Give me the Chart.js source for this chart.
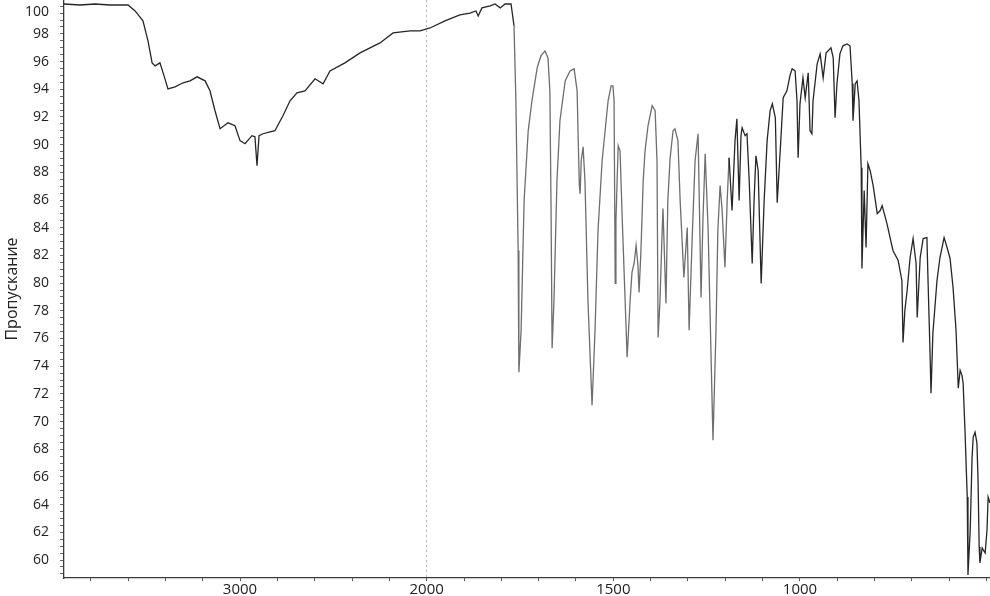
<!DOCTYPE html>
<html>
<head>
<meta charset="utf-8">
<script src="https://cdn.jsdelivr.net/npm/chart.js@4.4.1/dist/chart.umd.min.js"></script>
<style>
  html, body { margin: 0; padding: 0; background: #fff; }
  #chart { display: block; }
</style>
</head>
<body>
<canvas id="chart" width="990" height="596"></canvas>
<script>
// IR spectrum, wavenumber (cm-1) against transmittance (%)
const wavenumbers = [
  3943, 3857, 3777, 3696, 3600, 3562, 3520, 3493, 3471, 3455, 3429, 3407, 3386, 3348, 3305, 3268,
  3230, 3187, 3161, 3134, 3107, 3064, 3027, 3000, 2973, 2936, 2920, 2909, 2898, 2877, 2839, 2813,
  2770, 2732, 2695, 2652, 2598, 2555, 2518, 2438, 2357, 2250, 2180, 2089, 2036, 1991, 1951, 1911,
  1884, 1868, 1862, 1852, 1830, 1817, 1803, 1790, 1774, 1766, 1761, 1755, 1753, 1747, 1739, 1728,
  1718, 1704, 1694, 1683, 1675, 1670, 1667, 1664, 1659, 1651, 1643, 1629, 1616, 1605, 1597, 1594,
  1591, 1589, 1586, 1581, 1576, 1568, 1557, 1549, 1541, 1530, 1522, 1514, 1506, 1501, 1498, 1495,
  1493, 1487, 1482, 1476, 1463, 1455, 1450, 1444, 1439, 1434, 1431, 1426, 1420, 1415, 1407, 1396,
  1388, 1383, 1380, 1375, 1370, 1367, 1359, 1354, 1348, 1340, 1335, 1327, 1321, 1311, 1302, 1297,
  1289, 1281, 1273, 1265, 1260, 1254, 1246, 1233, 1225, 1220, 1214, 1209, 1201, 1195, 1190, 1182,
  1174, 1169, 1163, 1158, 1155, 1147, 1142, 1136, 1128, 1123, 1118, 1112, 1104, 1096, 1088, 1080,
  1074, 1066, 1061, 1053, 1045, 1035, 1027, 1021, 1013, 1008, 1005, 1000, 992, 986, 978, 973,
  968, 965, 954, 946, 938, 930, 925, 917, 911, 906, 901, 893, 885, 874, 866, 860,
  858, 852, 847, 842, 836, 834, 828, 823, 818, 812, 804, 793, 785, 780, 767, 751,
  737, 727, 724, 719, 713, 705, 697, 689, 686, 678, 670, 660, 657, 652, 649, 644,
  633, 625, 614, 606, 598, 590, 582, 576, 571, 566, 563, 558, 552, 550, 544, 539,
  536, 531, 526, 523, 520, 518, 512, 509, 504, 499, 496, 491
];
const transmittance = [
  100.16, 100.09, 100.16, 100.09, 100.09, 99.66, 98.94, 97.5, 95.91, 95.69, 95.91, 94.97, 94.03, 94.18, 94.47, 94.61,
  94.9, 94.61, 93.89, 92.45, 91.15, 91.58, 91.37, 90.29, 90.07, 90.65, 90.57, 88.48, 90.65, 90.79, 90.93, 91.01,
  92.09, 93.17, 93.75, 93.89, 94.76, 94.4, 95.33, 95.91, 96.63, 97.35, 98.07, 98.22, 98.22, 98.43, 98.94, 99.37,
  99.51, 99.66, 99.3, 99.88, 100.02, 100.16, 99.88, 100.16, 100.16, 98.58, 93.17, 82.36, 73.56, 76.59, 85.96, 91.0,
  93.17, 95.55, 96.41, 96.77, 96.27, 93.89, 85.96, 75.29, 78.75, 87.4, 91.73, 94.61, 95.33, 95.48, 93.89, 90.29,
  87.04, 86.46, 88.84, 89.85, 87.4, 78.75, 71.18, 76.59, 83.8, 88.84, 91.01, 93.17, 94.25, 94.25, 93.17, 79.98,
  84.52, 89.93, 89.56, 84.52, 74.64, 78.75, 80.77, 81.49, 82.72, 81.27, 79.33, 82.36, 87.4, 89.56, 91.37, 92.81,
  92.45, 88.84, 76.08, 78.75, 83.08, 85.38, 78.53, 85.96, 88.99, 91.01, 91.15, 90.29, 85.96, 80.41, 84.01, 76.59,
  83.08, 88.84, 90.79, 78.97, 84.52, 89.35, 83.8, 68.66, 76.59, 83.8, 87.04, 85.45, 81.13, 85.96, 89.06, 85.24,
  90.29, 91.87, 85.96, 90.65, 91.22, 90.65, 90.79, 87.4, 81.42, 85.96, 89.2, 88.12, 79.98, 85.96, 90.29, 92.45,
  92.95, 91.94, 85.81, 89.56, 93.39, 93.89, 94.97, 95.48, 95.33, 93.17, 89.06, 92.95, 94.83, 93.39, 95.19, 91.01,
  90.79, 93.17, 95.84, 96.56, 94.83, 96.63, 96.77, 96.99, 96.27, 91.94, 94.4, 96.56, 97.14, 97.28, 97.14, 94.4,
  91.73, 94.4, 94.61, 93.17, 88.34, 81.06, 86.68, 82.57, 88.63, 88.12, 87.04, 85.02, 85.24, 85.6, 84.3, 82.36,
  81.63, 80.19, 75.72, 78.03, 79.47, 81.85, 83.22, 81.42, 77.52, 81.85, 83.22, 83.29, 80.19, 75.36, 72.05, 76.37,
  80.19, 81.85, 83.29, 82.57, 81.78, 79.69, 76.59, 72.41, 73.7, 73.34, 72.77, 69.38, 64.55, 58.92, 62.17, 67.43,
  68.87, 69.23, 68.44, 65.77, 60.94, 59.79, 60.87, 60.73, 60.51, 62.17, 64.55, 64.12
];
const xLabels = [3000, 2000, 1500, 1000];
const wnLeft = 3943, wnRight = 491;
const yMin = 58.7, yMax = 100.45;

// the axis above 2000 cm-1 is squeezed 2x, map wavenumber to an even position
function toPos(w) { return w >= 2000 ? (4000 - w) / 2 : 3000 - w; }
function toWn(p) { return p <= 1000 ? 4000 - 2 * p : 3000 - p; }

const points = wavenumbers.map((w, i) => ({ x: toPos(w), y: transmittance[i] }));
const family = '"Open Sans", "DejaVu Sans", sans-serif';

// "100" sits a little lower than its gridline in the original print
const topLabel = {
  id: 'topLabel',
  afterDraw(chart) {
    const c = chart.ctx;
    c.save();
    c.font = '14px ' + family;
    c.fillStyle = '#222';
    c.textAlign = 'right';
    c.textBaseline = 'middle';
    c.fillText('100', 49, 12);
    c.restore();
  }
};

new Chart(document.getElementById('chart'), {
  type: 'line',
  data: {
    datasets: [{
      data: points,
      borderColor: '#262626',
      borderWidth: 1.3,
      pointRadius: 0,
      tension: 0,
      segment: {
        borderColor: ctx => (ctx.p0.parsed.x > toPos(1770) && ctx.p0.parsed.x < toPos(1190)) ? '#6e6e6e' : '#262626'
      }
    }]
  },
  options: {
    responsive: false,
    animation: false,
    devicePixelRatio: 1,
    layout: { padding: 0 },
    plugins: { legend: { display: false }, tooltip: { enabled: false } },
    scales: {
      x: {
        type: 'linear',
        min: toPos(wnLeft),
        max: toPos(wnRight),
        afterBuildTicks: axis => {
          const ticks = [];
          for (let w = 3800; w > 2000; w -= 200) ticks.push({ value: toPos(w) });
          for (let w = 2000; w >= 500; w -= 100) ticks.push({ value: toPos(w) });
          axis.ticks = ticks;
        },
        afterFit: axis => { axis.height = 18; axis.paddingLeft = 0; axis.paddingRight = 0; },
        ticks: {
          autoSkip: false,
          maxRotation: 0,
          padding: 0,
          color: '#222',
          font: { family, size: 15 },
          callback: v => {
            const w = Math.round(toWn(v));
            return xLabels.includes(w) ? String(w) : '';
          }
        },
        grid: {
          drawOnChartArea: true,
          color: ctx => (ctx.tick && Math.round(toWn(ctx.tick.value)) === 2000) ? '#b4b4b4' : 'rgba(0,0,0,0)',
          tickColor: '#555',
          tickLength: 3
        },
        border: { display: true, color: '#3a3a3a', width: 1.3, dash: [2, 3] }
      },
      y: {
        min: yMin,
        max: yMax,
        afterBuildTicks: axis => {
          const ticks = [];
          for (let v = 59; v <= 100; v += 0.5) ticks.push({ value: v });
          axis.ticks = ticks;
        },
        afterFit: axis => { axis.width = 64; axis.paddingTop = 0; axis.paddingBottom = 0; },
        ticks: {
          autoSkip: false,
          padding: 11,
          color: '#222',
          font: { family, size: 14 },
          callback: v => (v % 2 === 0 && v !== 100) ? String(v) : ''
        },
        grid: { drawOnChartArea: false, tickColor: '#666', tickLength: 4 },
        border: { display: true, color: '#3a3a3a', width: 1.3 },
        title: {
          display: true,
          text: 'Пропускание',
          color: '#222',
          font: { family, size: 16 },
          padding: { top: 3, bottom: 0 }
        }
      }
    }
  },
  plugins: [topLabel]
});
</script>
</body>
</html>
